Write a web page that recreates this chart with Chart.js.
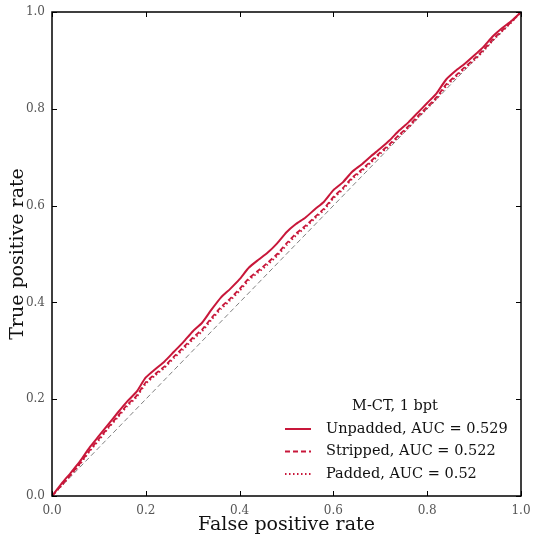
<!DOCTYPE html>
<html>
<head>
<meta charset="utf-8">
<script src="https://cdn.jsdelivr.net/npm/chart.js@4.4.1/dist/chart.umd.min.js"></script>
<style>
html,body{margin:0;padding:0;background:#fff;}
#wrap{width:533px;height:542px;}
</style>
</head>
<body>
<div id="wrap"><canvas id="roc" width="533" height="542"></canvas></div>
<script>
// ROC data
let fpr = [0,0.02,0.04,0.06,0.08,0.10,0.12,0.14,0.16,0.18,0.20,0.22,0.24,0.26,0.28,0.30,0.32,0.34,0.36,0.38,0.40,0.42,0.44,0.46,0.48,0.50,0.52,0.54,0.56,0.58,0.60,0.62,0.64,0.66,0.68,0.70,0.72,0.74,0.76,0.78,0.80,0.82,0.84,0.86,0.88,0.90,0.92,0.94,0.96,0.98,1.0];

let tprUnpadded = [0,0.025,0.048,0.072,0.100,0.124,0.148,0.172,0.195,0.215,0.245,0.262,0.278,0.298,0.318,0.340,0.358,0.385,0.410,0.428,0.448,0.472,0.488,0.503,0.522,0.545,0.562,0.575,0.592,0.608,0.632,0.648,0.670,0.685,0.702,0.718,0.735,0.755,0.772,0.792,0.812,0.832,0.860,0.878,0.893,0.910,0.928,0.950,0.967,0.982,1.0];

let tprStripped = [0,0.022,0.044,0.068,0.094,0.118,0.142,0.165,0.188,0.207,0.235,0.252,0.268,0.288,0.307,0.327,0.344,0.368,0.390,0.408,0.428,0.450,0.466,0.482,0.500,0.522,0.542,0.558,0.576,0.594,0.618,0.636,0.658,0.674,0.692,0.710,0.727,0.746,0.764,0.785,0.804,0.824,0.850,0.868,0.886,0.903,0.922,0.944,0.962,0.980,1.0];

let tprPadded = [0,0.021,0.043,0.066,0.092,0.115,0.140,0.162,0.185,0.204,0.232,0.249,0.265,0.285,0.303,0.323,0.340,0.364,0.386,0.404,0.424,0.446,0.462,0.478,0.496,0.518,0.538,0.555,0.573,0.591,0.615,0.633,0.655,0.671,0.689,0.707,0.724,0.743,0.761,0.782,0.801,0.821,0.846,0.865,0.883,0.900,0.919,0.941,0.960,0.979,1.0];

let labels = ["Unpadded, AUC = 0.529","Stripped, AUC = 0.522","Padded, AUC = 0.52"];
let legendTitle = "M-CT, 1 bpt";
let tickValues = [0,0.2,0.4,0.6,0.8,1.0];

let red = "#c8173a";
let serif = "'DejaVu Serif', 'Liberation Serif', serif";

function pts(ys){
return fpr.map((x,i)=>({x:x,y:ys[i]}));
}

// inward ticks, frame, axis titles and legend
const framePlugin = {
id:"frame",
afterDraw(chart){
const ctx = chart.ctx;
const a = chart.chartArea;
const xs = chart.scales.x, ys = chart.scales.y;
ctx.save();
ctx.strokeStyle = "#000";
ctx.lineWidth = 1.5;
ctx.strokeRect(a.left, a.top, a.right-a.left, a.bottom-a.top);
ctx.lineWidth = 1;
tickValues.forEach(v=>{
let px = Math.round(xs.getPixelForValue(v))+0.5;
let py = Math.round(ys.getPixelForValue(v))+0.5;
ctx.beginPath();
ctx.moveTo(px,a.bottom); ctx.lineTo(px,a.bottom-5);
ctx.moveTo(px,a.top); ctx.lineTo(px,a.top+5);
ctx.moveTo(a.left,py); ctx.lineTo(a.left+5,py);
ctx.moveTo(a.right,py); ctx.lineTo(a.right-5,py);
ctx.stroke();
});

// axis titles
ctx.fillStyle = "#111";
ctx.font = "19px " + serif;
ctx.textAlign = "center";
ctx.textBaseline = "middle";
ctx.fillText("False positive rate",(a.left+a.right)/2,525);
ctx.save();
ctx.translate(18,(a.top+a.bottom)/2);
ctx.rotate(-Math.PI/2);
ctx.fillText("True positive rate",0,0);
ctx.restore();

// legend
ctx.font = "14.5px " + serif;
ctx.fillText(legendTitle,395,406);
ctx.textAlign = "left";
chart.data.datasets.slice(0,3).forEach((ds,i)=>{
let y = 429 + i*22.5;
ctx.strokeStyle = ds.borderColor;
ctx.lineWidth = ds.borderWidth;
ctx.setLineDash(ds.borderDash || []);
ctx.beginPath();
ctx.moveTo(285,y); ctx.lineTo(311,y);
ctx.stroke();
ctx.setLineDash([]);
ctx.fillStyle = "#111";
ctx.fillText(ds.label,326,y);
});
ctx.restore();
}
};

new Chart(document.getElementById("roc"),{
type:"line",
data:{
datasets:[
{
label:labels[0],
data:pts(tprUnpadded),
borderColor:red,
borderWidth:2,
pointRadius:0,
tension:0.2,
order:1
},
{
label:labels[1],
data:pts(tprStripped),
borderColor:red,
borderWidth:1.8,
borderDash:[5,3],
pointRadius:0,
tension:0.2,
order:2
},
{
label:labels[2],
data:pts(tprPadded),
borderColor:red,
borderWidth:1.8,
borderDash:[1.5,2.5],
pointRadius:0,
tension:0.2,
order:3
},
{
label:"chance",
data:[{x:0,y:0},{x:1,y:1}],
borderColor:"#808080",
borderWidth:1,
borderDash:[5,3],
pointRadius:0,
order:4
}
]
},
options:{
responsive:false,
animation:false,
layout:{padding:{top:12,right:12,left:0,bottom:0}},
plugins:{
legend:{display:false},
tooltip:{enabled:false}
},
scales:{
x:{
type:"linear",
min:0,max:1,
grid:{display:false,drawTicks:false},
border:{display:false},
afterBuildTicks(s){ s.ticks = tickValues.map(v=>({value:v})); },
afterFit(s){ s.height = 46; s.paddingLeft = 0; s.paddingRight = 0; },
ticks:{
padding:8,
color:"#555",
font:{family:serif,size:12},
callback:v=>v.toFixed(1)
}
},
y:{
type:"linear",
min:0,max:1,
grid:{display:false,drawTicks:false},
border:{display:false},
afterBuildTicks(s){ s.ticks = tickValues.map(v=>({value:v})); },
afterFit(s){ s.width = 52; s.paddingTop = 0; s.paddingBottom = 0; },
ticks:{
padding:7,
color:"#555",
font:{family:serif,size:12},
callback:v=>v.toFixed(1)
}
}
}
},
plugins:[framePlugin]
});
</script>
</body>
</html>
